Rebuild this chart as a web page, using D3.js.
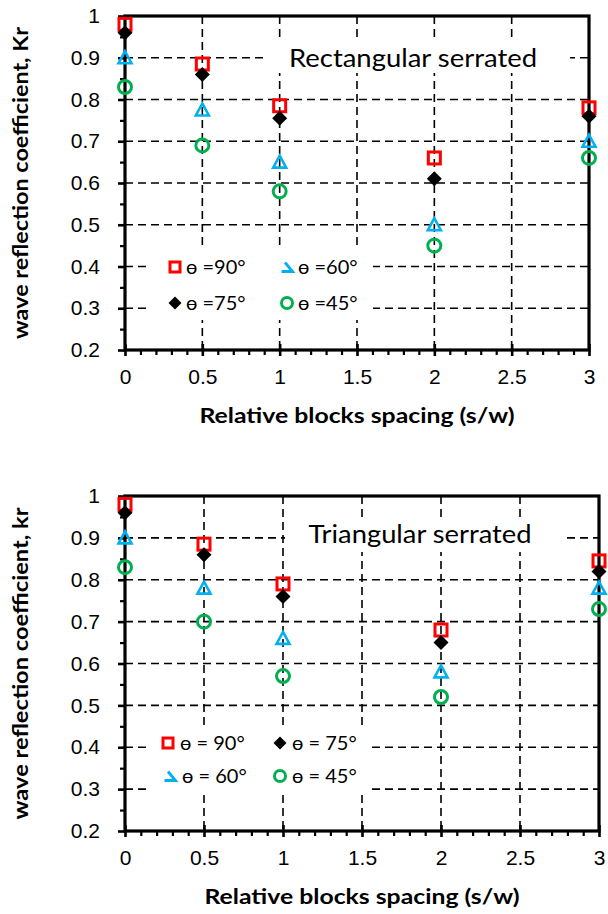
<!DOCTYPE html>
<html><head><meta charset="utf-8">
<script src="https://cdn.jsdelivr.net/npm/d3@7"></script>
<style>html,body{margin:0;padding:0;background:#fff;} svg{display:block;}</style>
</head><body>
<svg id="c" width="608" height="914"></svg>
<script>
// ---------- data ----------
const xValues = [0, 0.5, 1, 2, 3];
const xTicks = [0, 0.5, 1, 1.5, 2, 2.5, 3];
const yTicks = [0.2, 0.3, 0.4, 0.5, 0.6, 0.7, 0.8, 0.9, 1];
const seriesKeys = ["90", "75", "60", "45"];
const rectKr90 = [0.98, 0.885, 0.785, 0.66, 0.78];
const rectKr75 = [0.96, 0.86, 0.755, 0.61, 0.76];
const rectKr60 = [0.90, 0.775, 0.65, 0.50, 0.70];
const rectKr45 = [0.83, 0.69, 0.58, 0.45, 0.66];
const triKr90 = [0.98, 0.885, 0.79, 0.68, 0.845];
const triKr75 = [0.96, 0.86, 0.76, 0.65, 0.82];
const triKr60 = [0.90, 0.78, 0.66, 0.58, 0.78];
const triKr45 = [0.83, 0.70, 0.57, 0.52, 0.73];
const rectLegendLabels = ["ɵ =90°", "ɵ =75°", "ɵ =60°", "ɵ =45°"];
const triLegendLabels = ["ɵ = 90°", "ɵ = 75°", "ɵ = 60°", "ɵ = 45°"];
const xTitle = "Relative blocks spacing (s/w)";

// ---------- styles ----------
const style = {
  "90": {type: "square", color: "#ff0000"},
  "75": {type: "diamond", color: "#000000"},
  "60": {type: "triangle", color: "#00b0f0"},
  "45": {type: "circle", color: "#00b050"}
};
const svg = d3.select("#c");
const fmt = v => String(+v.toFixed(2));

function drawMarker(g, type, color, cx, cy, s, legend) {
  if (type === "square") {
    g.append("rect").attr("x", cx - s/2).attr("y", cy - s/2).attr("width", s).attr("height", s)
      .attr("fill", "none").attr("stroke", color).attr("stroke-width", 3);
  } else if (type === "diamond") {
    const h = s/2 + 1.5;
    g.append("path").attr("d", `M${cx},${cy-h}L${cx+h},${cy}L${cx},${cy+h}L${cx-h},${cy}Z`).attr("fill", color);
  } else if (type === "triangle") {
    const w = s + 1, ht = s;
    const top = cy - ht/2 - 0.5, bot = cy + ht/2 - 0.5;
    if (legend) {
      g.append("path").attr("d", `M${cx-2},${top+1}L${cx+w/2},${bot}L${cx-w/2},${bot}`)
        .attr("fill", "none").attr("stroke", color).attr("stroke-width", 2.8).attr("stroke-linejoin", "miter");
    } else {
      g.append("path").attr("d", `M${cx},${top}L${cx+w/2},${bot}L${cx-w/2},${bot}Z`)
        .attr("fill", "none").attr("stroke", color).attr("stroke-width", 2.6).attr("stroke-linejoin", "miter");
    }
  } else if (type === "circle") {
    g.append("circle").attr("cx", cx).attr("cy", cy).attr("r", s/2 + 0.5)
      .attr("fill", "none").attr("stroke", color).attr("stroke-width", 3);
  }
}

function drawChart(cfg) {
  const g = svg.append("g");
  const x = d3.scaleLinear().domain([0, 3]).range([cfg.left, cfg.right]);
  const y = d3.scaleLinear().domain([0.2, 1]).range([cfg.bottom, cfg.top]);

  // gridlines
  const grid = g.append("g").attr("stroke", "#000").attr("stroke-width", 1.6).attr("stroke-dasharray", "8,5");
  grid.selectAll("line.v").data(xTicks.filter(v => v > 0 && v < 3)).join("line")
    .attr("x1", d => x(d)).attr("x2", d => x(d)).attr("y1", cfg.top).attr("y2", cfg.bottom);
  grid.selectAll("line.h").data(yTicks.filter(v => v > 0.2 && v < 1)).join("line")
    .attr("y1", d => y(d)).attr("y2", d => y(d)).attr("x1", cfg.left).attr("x2", cfg.right);

  // white boxes (title and legend)
  g.append("rect").attr("x", cfg.titleBox[0]).attr("y", cfg.titleBox[1]).attr("width", cfg.titleBox[2]).attr("height", cfg.titleBox[3]).attr("fill", "#fff");
  g.append("rect").attr("x", cfg.legBox[0]).attr("y", cfg.legBox[1]).attr("width", cfg.legBox[2]).attr("height", cfg.legBox[3]).attr("fill", "#fff");

  g.append("text").attr("x", cfg.titleX).attr("y", cfg.titleY).attr("text-anchor", "middle")
    .attr("font-family", "Lato, 'Open Sans', sans-serif").attr("font-size", 25)
    .attr("textLength", cfg.titleLen).attr("lengthAdjust", "spacingAndGlyphs")
    .text(cfg.title);

  // minor ticks
  const minorX = d3.range(0, 31).map(i => i / 10).filter(v => Math.abs(v * 2 - Math.round(v * 2)) > 1e-6);
  const minorY = d3.range(0, 8).map(i => 0.25 + i * 0.1);
  const axMinX = g.append("g").attr("transform", `translate(0,${cfg.bottom})`)
    .call(d3.axisBottom(x).tickValues(minorX).tickSize(5).tickFormat(""));
  const axMinY = g.append("g").attr("transform", `translate(${cfg.left},0)`)
    .call(d3.axisLeft(y).tickValues(minorY).tickSize(5).tickFormat(""));
  [axMinX, axMinY].forEach(a => { a.select(".domain").remove(); a.selectAll("line").attr("stroke-width", 2.2); });

  // major axes
  const axX = g.append("g").attr("transform", `translate(0,${cfg.bottom})`)
    .call(d3.axisBottom(x).tickValues(xTicks).tickSize(6).tickPadding(13).tickFormat(fmt));
  axX.selectAll(".tick line").attr("y1", -6).attr("stroke-width", 2.6);
  const axY = g.append("g").attr("transform", `translate(${cfg.left},0)`)
    .call(d3.axisLeft(y).tickValues(yTicks).tickSize(7).tickPadding(18).tickFormat(fmt));
  axY.selectAll(".tick line").attr("stroke-width", 2.6);
  [axX, axY].forEach(a => {
    a.select(".domain").remove();
    a.selectAll("text").attr("font-family", "'Liberation Sans', Arial, sans-serif").attr("font-size", 21).attr("fill", "#000");
  });

  // frame
  g.append("rect").attr("x", cfg.left).attr("y", cfg.top).attr("width", cfg.right - cfg.left).attr("height", cfg.bottom - cfg.top)
    .attr("fill", "none").attr("stroke", "#000").attr("stroke-width", 3.2);

  // axis titles
  g.append("text").attr("x", (cfg.left + cfg.right) / 2).attr("y", cfg.bottom + 73).attr("text-anchor", "middle")
    .attr("font-family", "Lato, 'Open Sans', sans-serif").attr("font-weight", "bold").attr("font-size", 20)
    .attr("textLength", 315).attr("lengthAdjust", "spacingAndGlyphs").text(xTitle);
  g.append("text").attr("transform", `translate(28,${(cfg.top + cfg.bottom) / 2}) rotate(-90)`).attr("text-anchor", "middle")
    .attr("font-family", "Lato, 'Open Sans', sans-serif").attr("font-weight", "bold").attr("font-size", 20)
    .attr("textLength", 312).attr("lengthAdjust", "spacingAndGlyphs").text(cfg.yTitle);

  // markers
  const mk = g.append("g");
  seriesKeys.forEach((k, si) => {
    cfg.series[si].forEach((v, i) => {
      drawMarker(mk, style[k].type, style[k].color, x(xValues[i]), y(v), 12, false);
    });
  });

  // legend
  const lg = g.append("g");
  seriesKeys.forEach((k, si) => {
    const [lx, ly] = cfg.legPos[si];
    drawMarker(lg, style[k].type, style[k].color, lx, ly, 10, true);
    lg.append("text").attr("x", lx + cfg.legGap).attr("y", ly).attr("dy", "0.35em")
      .attr("font-family", "Lato, 'DejaVu Sans', sans-serif").attr("font-size", 20).text(cfg.legLabels[si]);
  });
}

drawChart({
  left: 125, right: 589, top: 16, bottom: 350,
  series: [rectKr90, rectKr75, rectKr60, rectKr45],
  title: "Rectangular serrated", titleX: 413, titleY: 67, titleLen: 248,
  titleBox: [267, 42, 303, 31],
  legBox: [148, 249, 225, 71],
  legPos: [[175, 267], [175, 303], [287, 267], [287, 303]],
  legGap: 11, legLabels: rectLegendLabels,
  yTitle: "wave reflection coefficient, Kr"
});
drawChart({
  left: 125, right: 599, top: 496, bottom: 831,
  series: [triKr90, triKr75, triKr60, triKr45],
  title: "Triangular serrated", titleX: 420, titleY: 543, titleLen: 223,
  titleBox: [285, 520, 277, 32],
  legBox: [150, 725, 218, 68],
  legPos: [[168, 743], [280, 743], [170, 776], [280, 776]],
  legGap: 12, legLabels: triLegendLabels,
  yTitle: "wave reflection coefficient, kr"
});
</script>
</body></html>
